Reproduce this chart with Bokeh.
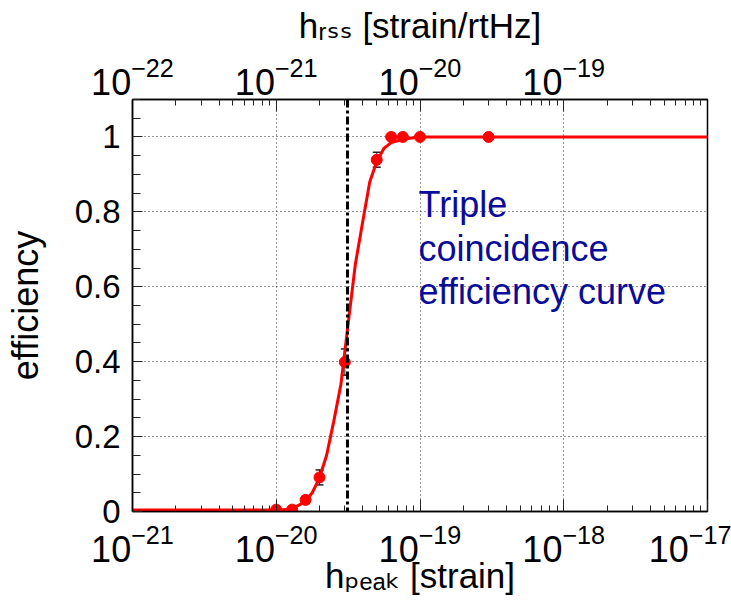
import math
from bokeh.plotting import figure
from bokeh.models import (LogAxis, Range1d, LogScale, FixedTicker, Span, Label,
                          Whisker, ColumnDataSource, TeeHead, CustomJSTickFormatter)
from bokeh.embed import file_html
from bokeh.resources import INLINE

# ---------------- data ----------------
h_peak = [1.0e-20, 1.29e-20, 1.6e-20, 2.0e-20, 3.0e-20, 5.0e-20, 6.3e-20, 7.6e-20, 1.0e-19, 3.0e-19]
efficiency = [0.005, 0.005, 0.031, 0.091, 0.399, 0.939, 1.0, 1.0, 1.0, 1.0]
efficiency_err = [0.0, 0.0, 0.01, 0.02, 0.035, 0.02, 0.0, 0.0, 0.0, 0.0]

fit_h_peak = [1.0e-21, 1.0e-20, 1.26e-20, 1.58e-20, 1.78e-20, 2.0e-20, 2.24e-20, 2.51e-20,
              2.82e-20, 3.16e-20, 3.55e-20, 3.98e-20, 4.47e-20, 5.01e-20, 5.62e-20, 6.31e-20,
              7.94e-20, 1.0e-19, 1.0e-17]
fit_efficiency = [0.004, 0.004, 0.006, 0.025, 0.05, 0.09, 0.15, 0.24,
                  0.34, 0.5, 0.66, 0.77, 0.88, 0.935, 0.97, 0.985,
                  0.995, 1.0, 1.0]

threshold_h_peak = 3.13e-20

x_ticks = [1e-21, 1e-20, 1e-19, 1e-18, 1e-17]
top_ticks = [1e-22, 1e-21, 1e-20, 1e-19]
y_ticks = [0.0, 0.2, 0.4, 0.6, 0.8, 1.0]

x_title = "h\u209a\u2091\u2090\u2096 [strain]"
top_title = "h\u1d63\u209b\u209b [strain/rtHz]"
y_title = "efficiency"
annotation_lines = ["Triple", "coincidence", "efficiency curve"]

# ---------------- layout ----------------
W, H = 731, 606
FL, FT, FW, FH = 132, 99, 575, 412
X0, X1 = 1e-21, 1e-17
Y0, Y1 = 0.0, 1.1
FONT = "Liberation Sans, DejaVu Sans"


def xd(px):
    return 10 ** (math.log10(X0) + (math.log10(X1) - math.log10(X0)) * (px - FL) / FW)


def yd(py):
    return Y1 - (py - FT) / FH * (Y1 - Y0)


p = figure(frame_width=FW, frame_height=FH, x_axis_type="log",
           x_range=Range1d(X0, X1), y_range=Range1d(Y0, Y1),
           output_backend="svg", toolbar_location=None,
           min_border_left=FL, min_border_top=FT,
           min_border_right=W - FL - FW, min_border_bottom=H - FT - FH)
p.background_fill_color = "white"
p.border_fill_color = "white"
p.outline_line_color = "black"
p.outline_line_width = 1.5


def log_minors(e0, e1):
    return [m * 10.0 ** e for e in range(e0, e1) for m in range(2, 10)]


def style_axis(ax, size, major_in, minor_in, standoff):
    ax.axis_line_color = "black"
    ax.axis_line_width = 1.5
    ax.major_tick_line_color = "#222222"
    ax.minor_tick_line_color = "#222222"
    ax.major_tick_in = major_in
    ax.major_tick_out = 0
    ax.minor_tick_in = minor_in
    ax.minor_tick_out = 0
    ax.major_label_text_font = FONT
    ax.major_label_text_font_size = size
    ax.major_label_text_color = "black"
    ax.major_label_standoff = standoff
    ax.axis_label_text_font = FONT
    ax.axis_label_text_font_style = "normal"
    ax.axis_label_text_color = "black"


bx = p.xaxis[0]
bx.ticker = FixedTicker(ticks=x_ticks, minor_ticks=log_minors(-21, -17))
style_axis(bx, "36px", 12, 6, 12)
bx.axis_label = x_title
bx.axis_label_text_font_size = "35px"
bx.axis_label_standoff = -9

ly = p.yaxis[0]
ly.ticker = FixedTicker(ticks=y_ticks, minor_ticks=[round(0.05 * i, 2) for i in range(23)])
ly.formatter = CustomJSTickFormatter(code="return String(Math.round(tick*10)/10);")
style_axis(ly, "33px", 10, 8, 12)
ly.axis_label = y_title
ly.axis_label_text_font_size = "36px"
ly.axis_label_standoff = 26

p.extra_x_ranges = {"hrss": Range1d(1e-22, 1e-18)}
p.extra_x_scales = {"hrss": LogScale()}
top = LogAxis(x_range_name="hrss",
              ticker=FixedTicker(ticks=top_ticks, minor_ticks=log_minors(-22, -18)))
style_axis(top, "36px", 12, 6, 5)
top.axis_label = top_title
top.axis_label_text_font_size = "35px"
top.axis_label_standoff = 9
p.add_layout(top, "above")

for g in (p.xgrid[0], p.ygrid[0]):
    g.grid_line_color = "#333333"
    g.grid_line_dash = "1 3"
    g.grid_line_width = 1
p.xgrid[0].ticker = FixedTicker(ticks=x_ticks)
p.ygrid[0].ticker = FixedTicker(ticks=y_ticks)

# ---------------- marks ----------------
p.line(fit_h_peak, fit_efficiency, line_color="#ff0000", line_width=3)

err_src = ColumnDataSource(dict(
    x=[h for h, e in zip(h_peak, efficiency_err) if e > 0],
    upper=[v + e for v, e in zip(efficiency, efficiency_err) if e > 0],
    lower=[v - e for v, e in zip(efficiency, efficiency_err) if e > 0],
))
p.add_layout(Whisker(source=err_src, base="x", upper="upper", lower="lower",
                     dimension="height", line_color="#222222", line_width=1,
                     upper_head=TeeHead(size=8, line_color="#222222", line_width=1.5),
                     lower_head=TeeHead(size=8, line_color="#222222", line_width=1.5)))

p.scatter(h_peak, efficiency, size=11, color="#ff0000")

p.add_layout(Span(location=threshold_h_peak, dimension="height", line_color="black",
                  line_width=3, line_dash="8 3 3 3"))

# ---------------- texts ----------------
for line, base in zip(annotation_lines, [203.5, 248.0, 290.5]):
    p.add_layout(Label(x=xd(418), y=yd(base), text=line, text_font="Liberation Sans",
                       text_font_size="36px", text_color="#0b0b99",
                       text_baseline="alphabetic", text_align="left"))

open("out.html", "w").write(file_html(p, INLINE))
